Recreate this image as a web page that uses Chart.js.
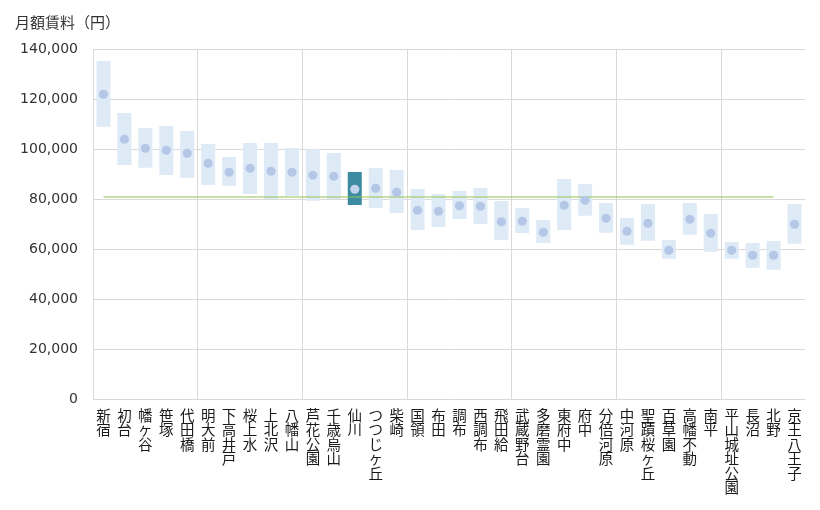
<!DOCTYPE html>
<html>
<head>
<meta charset="utf-8">
<script src="https://cdn.jsdelivr.net/npm/chart.js@4"></script>
<style>
  html, body { margin: 0; padding: 0; background: #ffffff; }
  #wrap { width: 820px; height: 510px; }
</style>
</head>
<body>
<div id="wrap"><canvas id="c" width="820" height="510"></canvas></div>
<script>
const stations = ['新宿','初台','幡ヶ谷','笹塚','代田橋','明大前','下高井戸','桜上水','上北沢','八幡山',
  '芦花公園','千歳烏山','仙川','つつじヶ丘','柴崎','国領','布田','調布','西調布','飛田給',
  '武蔵野台','多磨霊園','東府中','府中','分倍河原','中河原','聖蹟桜ヶ丘','百草園','高幡不動','南平',
  '平山城址公園','長沼','北野','京王八王子'];
const minRent = [108900, 93600, 92500, 89600, 88500, 85600, 85300, 82000, 80000, 81300,
  79300, 80000, 77600, 76400, 74400, 67600, 68800, 72000, 70000, 63600,
  66400, 62400, 67600, 73300, 66500, 61700, 63300, 56100, 65700, 58900,
  56100, 52500, 51700, 62100];
const maxRent = [135200, 114400, 108400, 109200, 107200, 102000, 96800, 102400, 102400, 100400,
  99900, 98400, 90800, 92400, 91600, 84000, 82000, 83200, 84400, 79200,
  76400, 71600, 88000, 86000, 78400, 72400, 78000, 63600, 78400, 74000,
  62800, 62400, 63200, 78000];
const avgRent = [121900, 103900, 100300, 99500, 98300, 94300, 90700, 92300, 91100, 90700,
  89500, 89100, 83900, 84300, 82700, 75500, 75100, 77300, 77100, 70900,
  71100, 66700, 77500, 79500, 72300, 67100, 70300, 59500, 71900, 66300,
  59500, 57500, 57500, 69900];
const highlightStation = '仙川';
const referenceRent = 80800;
const referenceFrom = '新宿';
const referenceTo = '北野';
const yTicksMax = 140000;
const yTickStep = 20000;
const yTitle = '月額賃料（円）';

const barColor = '#deeaf6';
const highlightColor = '#3d8ba2';
const dotColor = '#b4c7e7';
const dotHighlightColor = '#c3d3ec';
const refColor = '#92c352';
const gridColor = '#d9d9d9';
const textColor = '#404040';

const ctx = document.getElementById('c').getContext('2d');
new Chart(ctx, {
  data: {
    labels: stations,
    datasets: [
      {
        type: 'line',
        label: '平均',
        data: avgRent,
        showLine: false,
        pointRadius: 4.6,
        pointHoverRadius: 4.6,
        pointBorderWidth: 0,
        pointBackgroundColor: stations.map(s => s === highlightStation ? dotHighlightColor : dotColor),
        pointBorderColor: 'transparent',
        order: 0
      },
      {
        type: 'line',
        label: '基準',
        data: [{x: referenceFrom, y: referenceRent}, {x: referenceTo, y: referenceRent}],
        borderColor: refColor,
        borderWidth: 1.2,
        pointRadius: 0,
        fill: false,
        order: 1
      },
      {
        type: 'bar',
        label: '範囲',
        data: stations.map((s, i) => [minRent[i], maxRent[i]]),
        backgroundColor: stations.map(s => s === highlightStation ? highlightColor : barColor),
        borderWidth: 0,
        barPercentage: 0.67,
        categoryPercentage: 1.0,
        order: 2
      }
    ]
  },
  options: {
    responsive: false,
    animation: false,
    devicePixelRatio: 1,
    layout: { padding: { top: 13, left: 15, right: 15, bottom: 0 } },
    plugins: {
      legend: { display: false },
      tooltip: { enabled: false },
      title: {
        display: true,
        text: yTitle,
        align: 'start',
        color: '#333333',
        font: { family: "'Noto Sans CJK JP', 'Noto Sans', sans-serif", size: 15, weight: 'normal' },
        padding: { top: 0, bottom: 18 }
      }
    },
    scales: {
      x: {
        type: 'category',
        offset: true,
        grid: {
          offset: true,
          drawTicks: false,
          color: (c) => (c.index % 5 === 0 ? gridColor : 'transparent'),
          lineWidth: 1
        },
        border: { display: false },
        ticks: {
          autoSkip: false,
          maxRotation: 0,
          minRotation: 0,
          padding: 9,
          color: '#1a1a1a',
          font: { family: "'Noto Sans CJK JP', sans-serif", size: 14.5, lineHeight: 1.0 },
          callback: function(value, index) {
            return Array.from(stations[index]);
          }
        },
        afterFit: (scale) => { scale.height = 111; }
      },
      y: {
        min: 0,
        max: yTicksMax,
        grid: { color: gridColor, drawTicks: false, lineWidth: 1 },
        border: { display: true, color: gridColor },
        ticks: {
          stepSize: yTickStep,
          padding: 15,
          color: '#333333',
          font: { family: "'DejaVu Sans', sans-serif", size: 14 },
          callback: (v) => v.toLocaleString('en-US')
        },
        afterFit: (scale) => { scale.width = 78; }
      }
    }
  }
});
</script>
</body>
</html>
